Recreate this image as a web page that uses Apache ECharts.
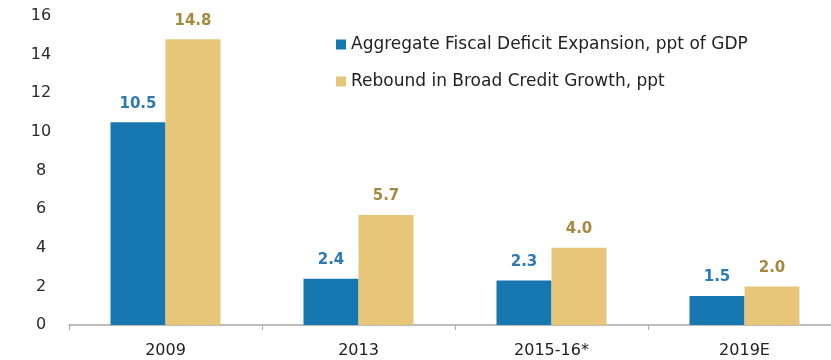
<!DOCTYPE html>
<html>
<head>
<meta charset="utf-8">
<script src="https://cdn.jsdelivr.net/npm/echarts@6/dist/echarts.min.js"></script>
<style>
  html, body { margin: 0; padding: 0; background: #fff; }
  #chart { width: 831px; height: 360px; }
</style>
</head>
<body>
<div id="chart"></div>
<script>
// Fiscal stimulus vs. credit rebound across easing episodes
const categories = ['2009', '2013', '2015-16*', '2019E'];
const fiscalDeficit = [10.5, 2.4, 2.3, 1.5];
const creditRebound = [14.8, 5.7, 4.0, 2.0];
const seriesNames = ['Aggregate Fiscal Deficit Expansion, ppt of GDP', 'Rebound in Broad Credit Growth, ppt'];

const BLUE = '#1777b0';
const GOLD = '#e8c679';
const FONT = '"DejaVu Sans", "Open Sans", sans-serif';

const chart = echarts.init(document.getElementById('chart'));
chart.setOption({
  animation: false,
  textStyle: { fontFamily: FONT },
  legend: {
    orient: 'vertical',
    left: 331,
    top: 31,
    itemWidth: 10,
    itemHeight: 10,
    itemGap: 20,
    icon: 'rect',
    textStyle: { fontSize: 17, color: '#222', fontFamily: FONT },
    data: seriesNames
  },
  // plot area runs a little past the right edge of the canvas
  grid: { left: 69, width: 772, top: 16, bottom: 35, containLabel: false, outerBoundsMode: 'none' },
  xAxis: {
    type: 'category',
    data: categories,
    axisLine: { lineStyle: { color: '#a6a6a6', width: 1.5 } },
    axisTick: { show: true, length: 5, lineStyle: { color: '#a6a6a6' } },
    axisLabel: { fontSize: 16, color: '#222', margin: 18, fontFamily: FONT }
  },
  yAxis: {
    type: 'value',
    min: 0,
    max: 16,
    interval: 2,
    splitLine: { show: false },
    axisLine: { show: false },
    axisTick: { show: false },
    axisLabel: { fontSize: 16, color: '#2a2a2a', margin: 28, align: 'center', fontFamily: FONT }
  },
  series: [
    {
      name: seriesNames[0],
      type: 'bar',
      data: fiscalDeficit,
      barWidth: 55,
      barGap: '0%',
      itemStyle: { color: BLUE },
      label: {
        show: true, position: 'top', distance: 11,
        formatter: p => p.value.toFixed(1),
        color: '#2b7ab3', fontWeight: 'bold', fontSize: 15, fontFamily: FONT
      }
    },
    {
      name: seriesNames[1],
      type: 'bar',
      data: creditRebound,
      barWidth: 55,
      itemStyle: { color: GOLD },
      label: {
        show: true, position: 'top', distance: 11,
        formatter: p => p.value.toFixed(1),
        color: '#a5893d', fontWeight: 'bold', fontSize: 15, fontFamily: FONT
      }
    }
  ]
});
</script>
</body>
</html>
